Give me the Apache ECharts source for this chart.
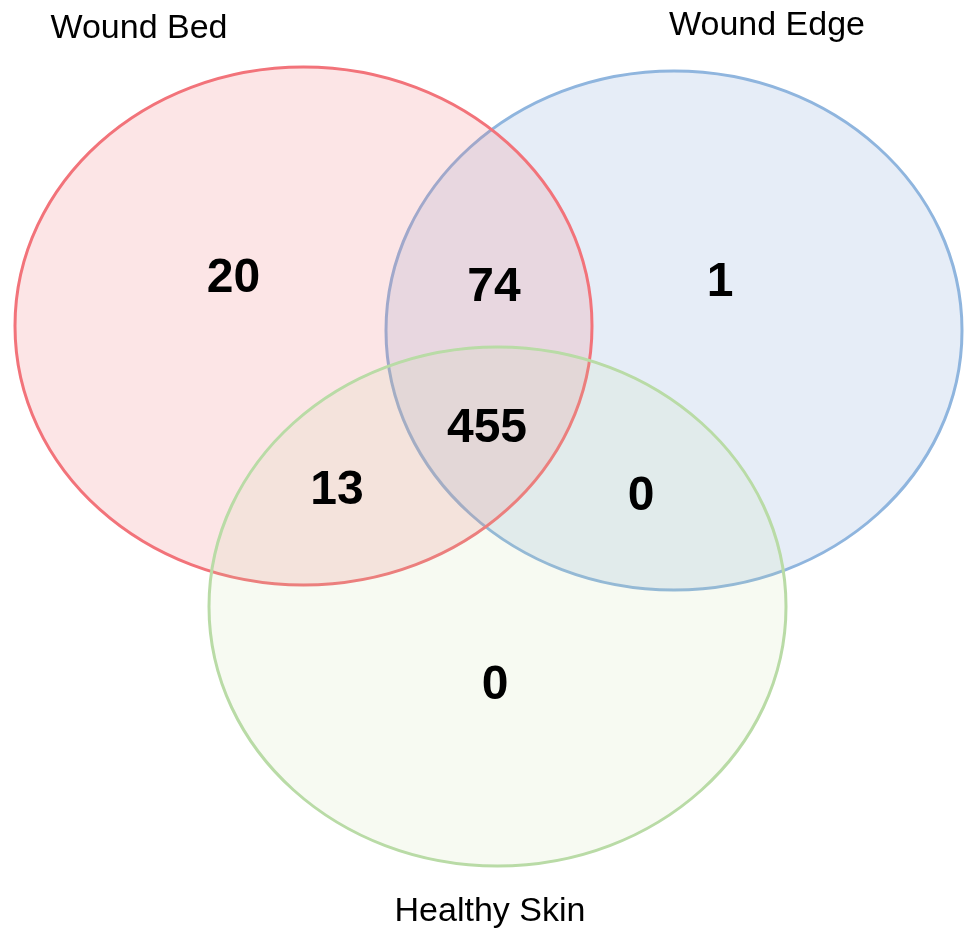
<!DOCTYPE html>
<html>
<head>
<meta charset="utf-8">
<script src="https://cdn.jsdelivr.net/npm/echarts@6/dist/echarts.min.js"></script>
<style>
    html, body { margin: 0; padding: 0; background: #fff; }
    #main { width: 964px; height: 928px; }
</style>
</head>
<body>
<div id="main"></div>
<script>
// sets (ellipses), in pixel-like data units
let setNames = ['Wound Edge', 'Wound Bed', 'Healthy Skin'];
let setCx = [674, 303.5, 497.5];
let setCy = [330.5, 326, 606.5];
let setRx = [288, 288.5, 288.5];
let setRy = [259.5, 259, 259.5];
let setStroke = ['#8fb5de', '#f2737a', '#b9dba6'];
let setFill = ['rgba(130,165,215,0.2)', 'rgba(240,110,115,0.18)', 'rgba(190,215,150,0.12)'];

// set name labels
let nameX = [767, 139, 490];
let nameY = [26, 29, 912];

// region counts
let regionCounts = [20, 74, 1, 455, 13, 0, 0];
let regionX = [233.5, 494, 720, 487, 337, 641, 495];
let regionY = [279, 288, 283, 429, 491, 497, 686];

let chart = echarts.init(document.getElementById('main'));

let ellipseData = setNames.map((n, i) => [setCx[i], setCy[i], setRx[i], setRy[i]]);

let option = {
    animation: false,
    grid: { left: 0, right: 0, top: 0, bottom: 0 },
    xAxis: { type: 'value', min: 0, max: 964, show: false },
    yAxis: { type: 'value', min: 0, max: 928, inverse: true, show: false },
    series: [
        {
            type: 'custom',
            data: ellipseData,
            renderItem: (params, api) => {
                let c = api.coord([api.value(0), api.value(1)]);
                let s = api.size([api.value(2), api.value(3)]);
                let i = params.dataIndex;
                return {
                    type: 'ellipse',
                    shape: { cx: c[0], cy: c[1], rx: s[0], ry: s[1] },
                    style: { fill: setFill[i], stroke: setStroke[i], lineWidth: 3 }
                };
            }
        },
        {
            type: 'scatter',
            symbolSize: 0,
            itemStyle: { opacity: 1 },
            data: setNames.map((n, i) => ({ name: n, value: [nameX[i], nameY[i]] })),
            label: {
                show: true,
                position: 'inside',
                formatter: (p) => p.name,
                color: '#000',
                fontFamily: 'Liberation Sans, Arial, sans-serif',
                fontSize: 34
            }
        },
        {
            type: 'scatter',
            symbolSize: 0,
            itemStyle: { opacity: 1 },
            data: regionCounts.map((v, i) => ({ name: String(v), value: [regionX[i], regionY[i]] })),
            label: {
                show: true,
                position: 'inside',
                formatter: (p) => p.name,
                color: '#000',
                fontFamily: 'Liberation Sans, Arial, sans-serif',
                fontWeight: 'bold',
                fontSize: 48
            }
        }
    ]
};

chart.setOption(option);
</script>
</body>
</html>
